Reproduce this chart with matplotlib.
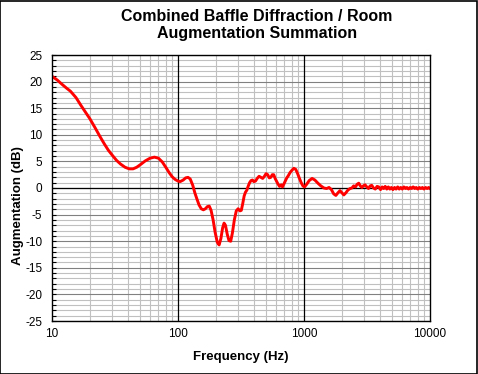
import matplotlib.pyplot as plt
from matplotlib.ticker import MultipleLocator, LogLocator, NullFormatter, FixedLocator
from matplotlib.patches import Rectangle

# values
freq = [10, 11, 12, 13, 14, 15.5, 17, 18.5, 20, 22, 24, 26, 28, 30, 32.5, 35, 38, 41, 44, 47,
        51, 55, 60, 65, 70, 75, 80, 85, 90, 95, 100, 104, 110, 115, 120, 125, 131, 136, 141, 147,
        153, 159, 165, 171, 177, 183, 190, 197, 205, 212, 219, 226, 232, 238, 246, 254, 262, 270, 280, 290,
        300, 310, 318, 326, 335, 343, 352, 360, 370, 380, 390, 400, 412, 425, 440, 455, 470, 485, 500, 515,
        530, 545, 560, 575, 590, 605, 620, 640, 660, 675, 690, 710, 730, 750, 775, 800, 830, 860, 890, 920,
        950, 980, 1010, 1050, 1100, 1160, 1220, 1290, 1360, 1440, 1510, 1580, 1650, 1720, 1790, 1860, 1930, 2000, 2070, 2150,
        2230, 2320, 2400, 2480, 2560, 2640, 2720, 2800, 2880, 2960, 3050, 3150, 3250, 3350, 3450, 3560, 3680, 3800, 3920, 4050,
        4170, 4290, 4410, 4540, 4670, 4800, 4940, 5080, 5230, 5380, 5540, 5700, 5860, 6030, 6200, 6380, 6560, 6750, 6950, 7150,
        7350, 7560, 7780, 8000, 8230, 8470, 8710, 8960, 9220, 9490, 9760, 10000]
gain = [21.0, 20.3, 19.5, 18.8, 18.2, 17.0, 15.5, 14.2, 13.0, 11.3, 9.7, 8.3, 7.1, 6.2, 5.2, 4.5, 3.9, 3.6, 3.6, 3.9,
        4.5, 5.1, 5.6, 5.8, 5.6, 4.9, 3.9, 2.9, 2.1, 1.6, 1.3, 1.2, 1.5, 1.9, 2.0, 1.7, 0.5, -0.9, -2.0, -3.2,
        -3.9, -4.1, -3.9, -3.5, -3.4, -4.2, -6.0, -8.3, -10.2, -10.7, -9.5, -7.5, -6.6, -7.0, -8.7, -9.9, -10.0, -8.5, -6.0, -4.3,
        -3.9, -4.3, -4.2, -3.0, -1.5, -0.8, -0.4, 0.3, 1.0, 1.4, 1.5, 1.2, 1.3, 1.8, 2.2, 2.0, 1.8, 2.2, 2.7, 2.5,
        1.9, 2.0, 2.5, 2.5, 1.8, 1.3, 0.8, 0.3, 0.6, 0.2, 0.7, 1.3, 1.9, 2.3, 2.9, 3.3, 3.7, 3.5, 2.7, 1.8,
        1.0, 0.4, 0.2, 0.7, 1.4, 1.8, 1.5, 0.9, 0.4, 0.0, -0.1, 0.1, -0.3, -1.1, -1.4, -0.9, -0.5, -0.9, -1.3, -0.9,
        -0.4, -0.1, 0.0, 0.4, 0.2, 0.7, 0.9, 0.4, 0.1, 0.4, 0.6, 0.2, -0.1, 0.4, 0.5, 0.0, -0.2, 0.3, 0.2, -0.3,
        0.2, -0.1, 0.3, -0.2, 0.2, -0.2, 0.1, -0.3, 0.1, -0.2, 0.2, -0.2, 0.1, -0.2, 0.2, -0.1, 0.1, -0.2, 0.1, -0.1,
        0.2, -0.1, 0.1, -0.2, 0.1, -0.1, 0.1, -0.2, 0.1, -0.1, 0.1, -0.1]
decades = [100, 1000]

plt.rcParams['font.family'] = ['Liberation Sans', 'DejaVu Sans']
plt.rcParams['axes.unicode_minus'] = False

fig = plt.figure(figsize=(4.78, 3.74), dpi=100)
ax = fig.add_axes([52 / 478, 53 / 374, 378 / 478, 266 / 374])

ax.set_xscale('log')
ax.set_xlim(10, 10000)
ax.set_ylim(-25, 25)

# grid
ax.yaxis.set_major_locator(MultipleLocator(5))
ax.yaxis.set_minor_locator(MultipleLocator(1))
ax.xaxis.set_major_locator(FixedLocator([10, 100, 1000, 10000]))
ax.xaxis.set_minor_locator(LogLocator(base=10, subs=range(2, 10)))
ax.xaxis.set_minor_formatter(NullFormatter())
ax.set_xticklabels(['10', '100', '1000', '10000'])

ax.grid(which='minor', axis='both', color='#c0c0c0', linewidth=0.8, zorder=0)
ax.grid(which='major', axis='y', color='#808080', linewidth=0.8, zorder=0)
for d in decades:
    ax.axvline(d, color='black', linewidth=0.9, zorder=1.5)
ax.axhline(0, color='black', linewidth=0.9, zorder=1.5)
ax.set_axisbelow(True)

ax.plot(freq, gain, color='#ff0000', linewidth=2.1, zorder=3)

ax.tick_params(axis='x', which='both', length=0, labelsize=8.5, pad=5)
ax.tick_params(axis='y', which='both', direction='in', length=3, width=0.8, labelsize=8.5, pad=7)
for s in ax.spines.values():
    s.set_linewidth(1.0)
    s.set_zorder(4)

ax.set_xlabel('Frequency (Hz)', fontsize=9.5, fontweight='bold', labelpad=8)
fig.text(18 / 478, 1 - 206 / 374, 'Augmentation (dB)', rotation=90, fontsize=9.5,
         fontweight='bold', ha='center', va='center')
fig.text(257 / 478, 1 - 25 / 374, 'Combined Baffle Diffraction / Room\nAugmentation Summation',
         fontsize=11.5, fontweight='bold', ha='center', va='center', linespacing=1.15)

fig.patches.append(Rectangle((0.001, 0.001), 0.997, 0.996, transform=fig.transFigure,
                             fill=False, edgecolor='black', linewidth=1.2))

fig.savefig('out.png', dpi=100)
